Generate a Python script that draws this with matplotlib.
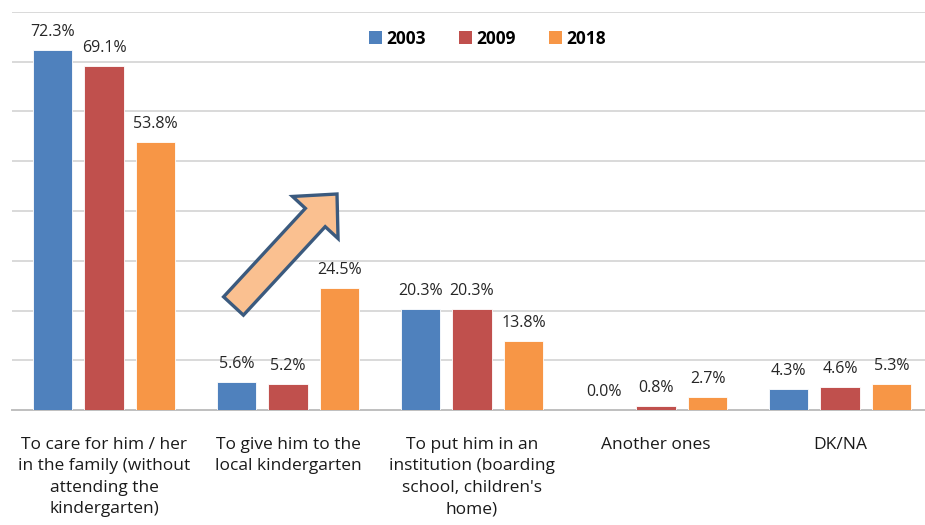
import matplotlib.pyplot as plt
import numpy as np
from matplotlib.patches import FancyArrow, Patch
from matplotlib.transforms import IdentityTransform

categories = [
    "To care for him / her\nin the family (without\nattending the\nkindergarten)",
    "To give him to the\nlocal kindergarten",
    "To put him in an\ninstitution (boarding\nschool, children's\nhome)",
    "Another ones",
    "DK/NA",
]
years = ["2003", "2009", "2018"]
v2003 = [72.3, 5.6, 20.3, 0.0, 4.3]
v2009 = [69.1, 5.2, 20.3, 0.8, 4.6]
v2018 = [53.8, 24.5, 13.8, 2.7, 5.3]
colors = ["#4F81BD", "#C0504D", "#F79646"]

plt.rcParams["font.family"] = ["Liberation Sans Narrow", "Open Sans", "DejaVu Sans"]

fig = plt.figure(figsize=(9.25, 5.25), dpi=100)
ax = fig.add_axes([12 / 925, 115 / 525, 913 / 925, 398 / 525])

x = np.arange(len(categories))
w = 0.217
off = 0.28
for i, (vals, c, yr) in enumerate(zip([v2003, v2009, v2018], colors, years)):
    bars = ax.bar(x + (i - 1) * off, vals, width=w, color=c, edgecolor="white",
                  linewidth=0.6, label=yr, zorder=3)
    for b, v in zip(bars, vals):
        ax.text(b.get_x() + b.get_width() / 2, v + 2.0, f"{v:.1f}%",
                ha="center", va="bottom", fontsize=11.5, color="#262626")

ax.set_ylim(0, 80)
ax.set_xlim(-0.5, -0.5 + 913 / 184)
ax.set_yticks(np.arange(10, 81, 10))
ax.yaxis.grid(True, color="#D9D9D9", lw=1.4, zorder=0)
ax.tick_params(axis="y", left=False, labelleft=False)
ax.tick_params(axis="x", bottom=False, pad=16)
ax.set_xticks(x)
ax.set_xticklabels(categories, fontsize=12.5, color="#1a1a1a", linespacing=1.45,
                   va="top")
for s in ("top", "right", "left"):
    ax.spines[s].set_visible(False)
ax.spines["bottom"].set_color("#BFBFBF")
ax.spines["bottom"].set_linewidth(1.4)

handles = [Patch(facecolor=c, label=y) for c, y in zip(colors, years)]
leg = ax.legend(handles=handles, loc="upper center", bbox_to_anchor=(0.521, 0.995),
                ncol=3, frameon=False, prop={"weight": "bold", "size": 12.5},
                handlelength=0.75, handleheight=0.75, handletextpad=0.25,
                columnspacing=1.9)

arrow = FancyArrow(233.5, 219, 103.5, 112, width=27, head_width=62, head_length=32,
                   length_includes_head=True, transform=IdentityTransform(),
                   facecolor="#FAC090", edgecolor="#3B5A7E", linewidth=2.4,
                   zorder=5)
fig.patches.append(arrow)
arrow.set_figure(fig)

fig.savefig("out.png", dpi=100)
